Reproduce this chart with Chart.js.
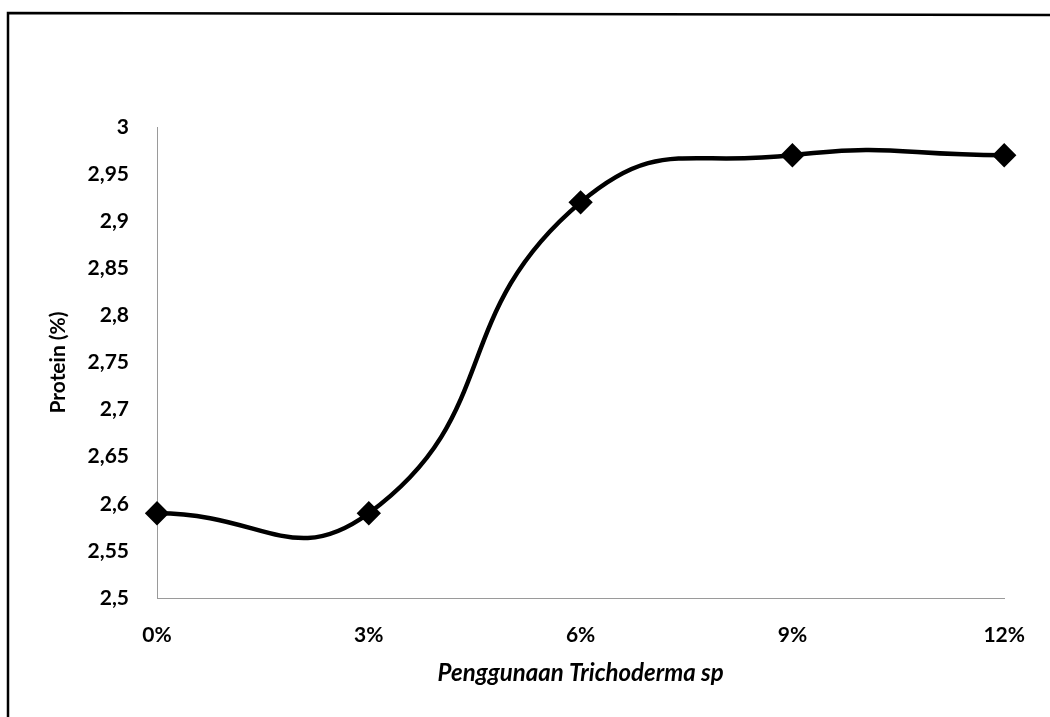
<!DOCTYPE html>
<html>
<head>
<meta charset="utf-8">
<script src="https://cdn.jsdelivr.net/npm/chart.js@4.4.0/dist/chart.umd.min.js"></script>
<style>
  html, body { margin: 0; padding: 0; background: #fff; }
  #wrap { position: relative; width: 1050px; height: 717px; }
  canvas { display: block; }
</style>
</head>
<body>
<div id="wrap"><canvas id="c" width="1050" height="717"></canvas></div>
<script>
const categories = ['0%', '3%', '6%', '9%', '12%'];
const proteinValues = [2.59, 2.59, 2.92, 2.97, 2.97];
const yMin = 2.5;
const yMax = 3;
const yStep = 0.05;
const xTitle = 'Penggunaan Trichoderma sp';
const yTitle = 'Protein (%)';

const framePlugin = {
  id: 'frame',
  afterDraw(chart) {
    const ctx = chart.ctx;
    ctx.save();
    ctx.strokeStyle = '#000';
    ctx.lineWidth = 2.5;
    ctx.beginPath();
    ctx.moveTo(8, 717);
    ctx.lineTo(8, 13);
    ctx.lineTo(1050, 15);
    ctx.stroke();
    ctx.restore();
  }
};

new Chart(document.getElementById('c'), {
  type: 'line',
  data: {
    labels: categories,
    datasets: [{
      data: proteinValues,
      borderColor: '#000',
      backgroundColor: '#000',
      borderWidth: 4.5,
      tension: 0.5,
      pointStyle: 'rectRot',
      pointRadius: 9,
      pointHoverRadius: 9,
      pointBackgroundColor: '#000',
      pointBorderColor: '#000',
      fill: false
    }]
  },
  options: {
    responsive: false,
    animation: false,
    devicePixelRatio: 1,
    layout: { padding: { left: 30, right: 37, top: 127, bottom: 0 } },
    plugins: { legend: { display: false }, tooltip: { enabled: false } },
    scales: {
      x: {
        offset: false,
        grid: { display: false, drawTicks: false },
        border: { display: true, color: '#9a9a9a', width: 1, dash: [3, 3] },
        ticks: {
          color: '#000',
          padding: 25,
          maxRotation: 0,
          font: { family: 'Lato', weight: 'bold', size: 21 }
        },
        title: {
          display: true,
          text: xTitle,
          color: '#000',
          padding: { top: 0, bottom: 29 },
          font: { family: 'Lato', weight: 'bold', style: 'italic', size: 24 }
        },
        afterFit(scale) { scale.height = 119; }
      },
      y: {
        min: yMin,
        max: yMax,
        grid: { display: false, drawTicks: false },
        border: { display: true, color: '#9a9a9a', width: 1, dash: [3, 3] },
        ticks: {
          stepSize: yStep,
          color: '#000',
          padding: 28,
          font: { family: 'Lato', weight: 'bold', size: 21 },
          callback(v) {
            return String(Math.round(v * 100) / 100).replace('.', ',');
          }
        },
        title: {
          display: true,
          text: yTitle,
          color: '#000',
          padding: { top: 16, bottom: 0 },
          font: { family: 'Lato', weight: 'bold', size: 21 }
        },
        afterFit(scale) { scale.width = 127; }
      }
    }
  },
  plugins: [framePlugin]
});
</script>
</body>
</html>
